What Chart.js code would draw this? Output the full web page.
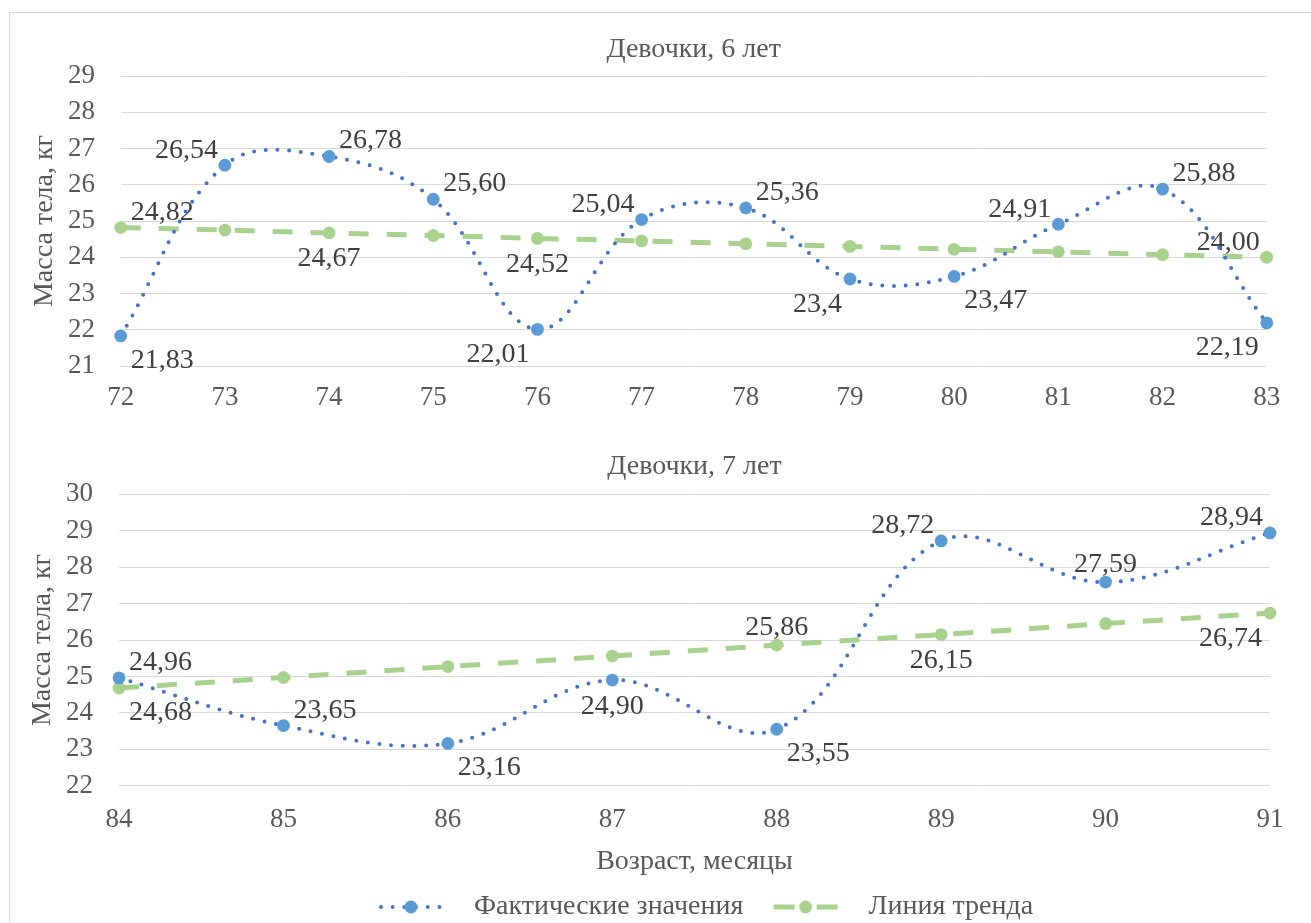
<!DOCTYPE html>
<html lang="ru">
<head>
<meta charset="utf-8">
<title>Масса тела девочек 6 и 7 лет</title>
<script src="https://cdn.jsdelivr.net/npm/chart.js@4.4.1/dist/chart.umd.min.js"></script>
<style>
  html, body { margin: 0; padding: 0; background: #fff; }
  body { position: relative; width: 1311px; height: 923px; overflow: hidden; }
  .frame { position: absolute; left: 9px; top: 12px; width: 1330px; height: 960px; border: 1px solid #d9d9d9; }
  canvas { position: absolute; left: 0; }
  #chart6 { top: 0; }
  #chart7 { top: 430px; }
</style>
</head>
<body>
<div class="frame"></div>
<canvas id="chart6" width="1311" height="430"></canvas>
<canvas id="chart7" width="1311" height="501"></canvas>
<script>
// ---- data: girls, 6 years (age 72–83 months) ----
const months6 = ['72', '73', '74', '75', '76', '77', '78', '79', '80', '81', '82', '83'];
const actual6 = [21.83, 26.54, 26.78, 25.60, 22.01, 25.04, 25.36, 23.4, 23.47, 24.91, 25.88, 22.19];
const trend6  = [24.82, 24.75, 24.67, 24.60, 24.52, 24.45, 24.37, 24.30, 24.22, 24.15, 24.07, 24.00];
const massRange6 = [21, 29];

// ---- data: girls, 7 years (age 84–91 months) ----
const months7 = ['84', '85', '86', '87', '88', '89', '90', '91'];
const actual7 = [24.96, 23.65, 23.16, 24.90, 23.55, 28.72, 27.59, 28.94];
const trend7  = [24.68, 24.97, 25.27, 25.56, 25.86, 26.15, 26.45, 26.74];
const massRange7 = [22, 30];

// decimals shown in each value label
const actual6Decimals = [2, 2, 2, 2, 2, 2, 2, 1, 2, 2, 2, 2];

// where each value label sits relative to its point (null = no label)
const actual6Place = ['se', 'nw', 'ne', 'ne', 'sw', 'nw', 'ne', 'sw', 'se', 'nw', 'ne', 'sw'];
const trend6Place  = ['ne', null, 's', null, 's', null, null, null, null, null, null, 'nw'];
const actual7Place = ['ne', 'ne', 'se', 's', 'se', 'nw', 'n', 'nw'];
const trend7Place  = ['se', null, null, null, 'n', 's', null, 'sw'];

// ---- styling ----
const SERIF = "'Times New Roman', 'Liberation Serif', serif";
const TEXT = '#595959';
const LABEL_TEXT = '#404040';
const GRID = '#d9d9d9';
const BLUE_LINE = '#4472c4';
const BLUE_MARK = '#5b9bd5';
const GREEN = '#a9d18e';
const TICK_SIZE = 27;
const TEXT_SIZE = 28;

Chart.defaults.font.family = SERIF;

const PLACE = {
  ne: { dx: 10, dy: -17.5, align: 'left' },
  nw: { dx: -7, dy: -17, align: 'right' },
  se: { dx: 10, dy: 22.5, align: 'left' },
  sw: { dx: -8, dy: 23, align: 'right' },
  n:  { dx: 0, dy: -20, align: 'center' },
  s:  { dx: 0, dy: 24, align: 'center' }
};

const fmt = (v, d) => v.toFixed(d).replace('.', ',');

// draws the value labels next to the points, beneath the lines
function valueLabels(series) {
  return {
    id: 'valueLabels',
    beforeDatasetsDraw(chart) {
      const ctx = chart.ctx;
      ctx.save();
      ctx.font = TEXT_SIZE + 'px ' + SERIF;
      ctx.fillStyle = LABEL_TEXT;
      ctx.textBaseline = 'alphabetic';
      series.forEach((s, di) => {
        const meta = chart.getDatasetMeta(di);
        const values = chart.data.datasets[di].data;
        s.place.forEach((code, i) => {
          if (!code) return;
          const p = PLACE[code];
          const el = meta.data[i];
          ctx.textAlign = p.align;
          const d = s.decimals ? s.decimals[i] : 2;
          ctx.fillText(fmt(values[i], d), el.x + p.dx, el.y + p.dy + TEXT_SIZE * 0.34);
        });
      });
      ctx.restore();
    }
  };
}

// small canvases used as legend symbols: line sample with a marker in the middle
function legendSymbol(kind) {
  const c = document.createElement('canvas');
  c.width = 104; c.height = 20;
  const g = c.getContext('2d');
  const x0 = 23, x1 = 87, cy = 10, cx = 55;
  if (kind === 'dots') {
    g.strokeStyle = BLUE_LINE; g.lineWidth = 4; g.lineCap = 'round';
    g.setLineDash([0, 11.7]);
    g.beginPath(); g.moveTo(x0 + 2, cy); g.lineTo(x1, cy); g.stroke();
    g.fillStyle = BLUE_MARK;
  } else {
    g.strokeStyle = GREEN; g.lineWidth = 5;
    g.beginPath();
    g.moveTo(x0, cy); g.lineTo(x0 + 21, cy);
    g.moveTo(x1 - 21, cy); g.lineTo(x1, cy);
    g.stroke();
    g.fillStyle = GREEN;
  }
  g.beginPath(); g.arc(cx, cy, 6.5, 0, Math.PI * 2); g.fill();
  return c;
}
const symbols = [legendSymbol('dots'), legendSymbol('dash')];

function font(size) { return { family: SERIF, size: size, weight: 'normal', lineHeight: 1.2 }; }

function makeChart(id, cfg) {
  return new Chart(document.getElementById(id), {
    type: 'line',
    data: {
      labels: cfg.months,
      datasets: [
        {
          label: 'Фактические значения',
          data: cfg.actual,
          borderColor: BLUE_LINE,
          borderWidth: 4,
          borderDash: [0, 11.7],
          borderCapStyle: 'round',
          tension: 0.38,
          pointRadius: 6.4,
          pointBorderWidth: 0,
          pointBackgroundColor: BLUE_MARK,
          pointBorderColor: BLUE_MARK,
          clip: false
        },
        {
          label: 'Линия тренда',
          data: cfg.trend,
          borderColor: GREEN,
          borderWidth: 5,
          borderDash: [20, 18],
          borderCapStyle: 'butt',
          tension: 0,
          pointRadius: 6.4,
          pointBorderWidth: 0,
          pointBackgroundColor: GREEN,
          pointBorderColor: GREEN,
          clip: false
        }
      ]
    },
    plugins: [valueLabels(cfg.labels)],
    options: {
      responsive: false,
      animation: false,
      devicePixelRatio: 1,
      layout: { padding: { left: 0, right: cfg.padRight, top: 0, bottom: 0 } },
      plugins: {
        tooltip: { enabled: false },
        title: {
          display: true,
          text: cfg.title,
          color: TEXT,
          font: font(TEXT_SIZE),
          fullSize: false,
          padding: { top: cfg.titlePad[0], bottom: cfg.titlePad[1] }
        },
        legend: cfg.legend ? {
          display: true,
          position: 'bottom',
          fullSize: false,
          labels: {
            usePointStyle: true,
            pointStyleWidth: 104,
            padding: cfg.legendPad,
            color: TEXT,
            font: font(TEXT_SIZE),
            generateLabels: (chart) => chart.data.datasets.map((ds, i) => ({
              text: ds.label,
              pointStyle: symbols[i],
              fillStyle: 'rgba(0,0,0,0)',
              strokeStyle: 'rgba(0,0,0,0)',
              lineWidth: 0,
              hidden: false,
              rotation: 0,
              fontColor: TEXT,
              datasetIndex: i
            }))
          }
        } : { display: false }
      },
      scales: {
        x: {
          offset: false,
          grid: { display: false, drawTicks: false },
          border: { display: false },
          ticks: { color: TEXT, font: font(TICK_SIZE), padding: cfg.xTickPad, maxRotation: 0, autoSkip: false },
          title: cfg.xTitle ? {
            display: true, text: cfg.xTitle, color: TEXT, font: font(TEXT_SIZE),
            padding: { top: 0, bottom: cfg.xTitlePad }
          } : { display: false },
          afterFit: (s) => { s.height = cfg.xHeight; }
        },
        y: {
          min: cfg.range[0],
          max: cfg.range[1],
          grid: { color: GRID, lineWidth: 1, drawTicks: false },
          border: { display: false },
          ticks: { stepSize: 1, color: TEXT, font: font(TICK_SIZE), padding: cfg.yTickPad },
          title: {
            display: true, text: 'Масса тела, кг', color: TEXT, font: font(TEXT_SIZE),
            padding: { top: cfg.yTitlePad, bottom: 0 }
          },
          afterFit: (s) => { s.width = cfg.yWidth; }
        }
      }
    }
  });
}

makeChart('chart6', {
  title: 'Девочки, 6 лет',
  months: months6, actual: actual6, trend: trend6, range: massRange6,
  labels: [{ place: actual6Place, decimals: actual6Decimals }, { place: trend6Place }],
  padRight: 44.3, titlePad: [33.2, 9.2],
  yWidth: 120.7, yTickPad: 25.7, yTitlePad: 28.2,
  xHeight: 64, xTickPad: 15.8,
  legend: false
});

makeChart('chart7', {
  title: 'Девочки, 7 лет',
  months: months7, actual: actual7, trend: trend7, range: massRange7,
  labels: [{ place: actual7Place }, { place: trend7Place }],
  padRight: 41, titlePad: [20.2, 10.5],
  yWidth: 119, yTickPad: 26, yTitlePad: 26.2,
  xHeight: 100, xTickPad: 18.1, xTitle: 'Возраст, месяцы', xTitlePad: 6.9,
  legend: true, legendPad: 7.3
});
</script>
</body>
</html>
